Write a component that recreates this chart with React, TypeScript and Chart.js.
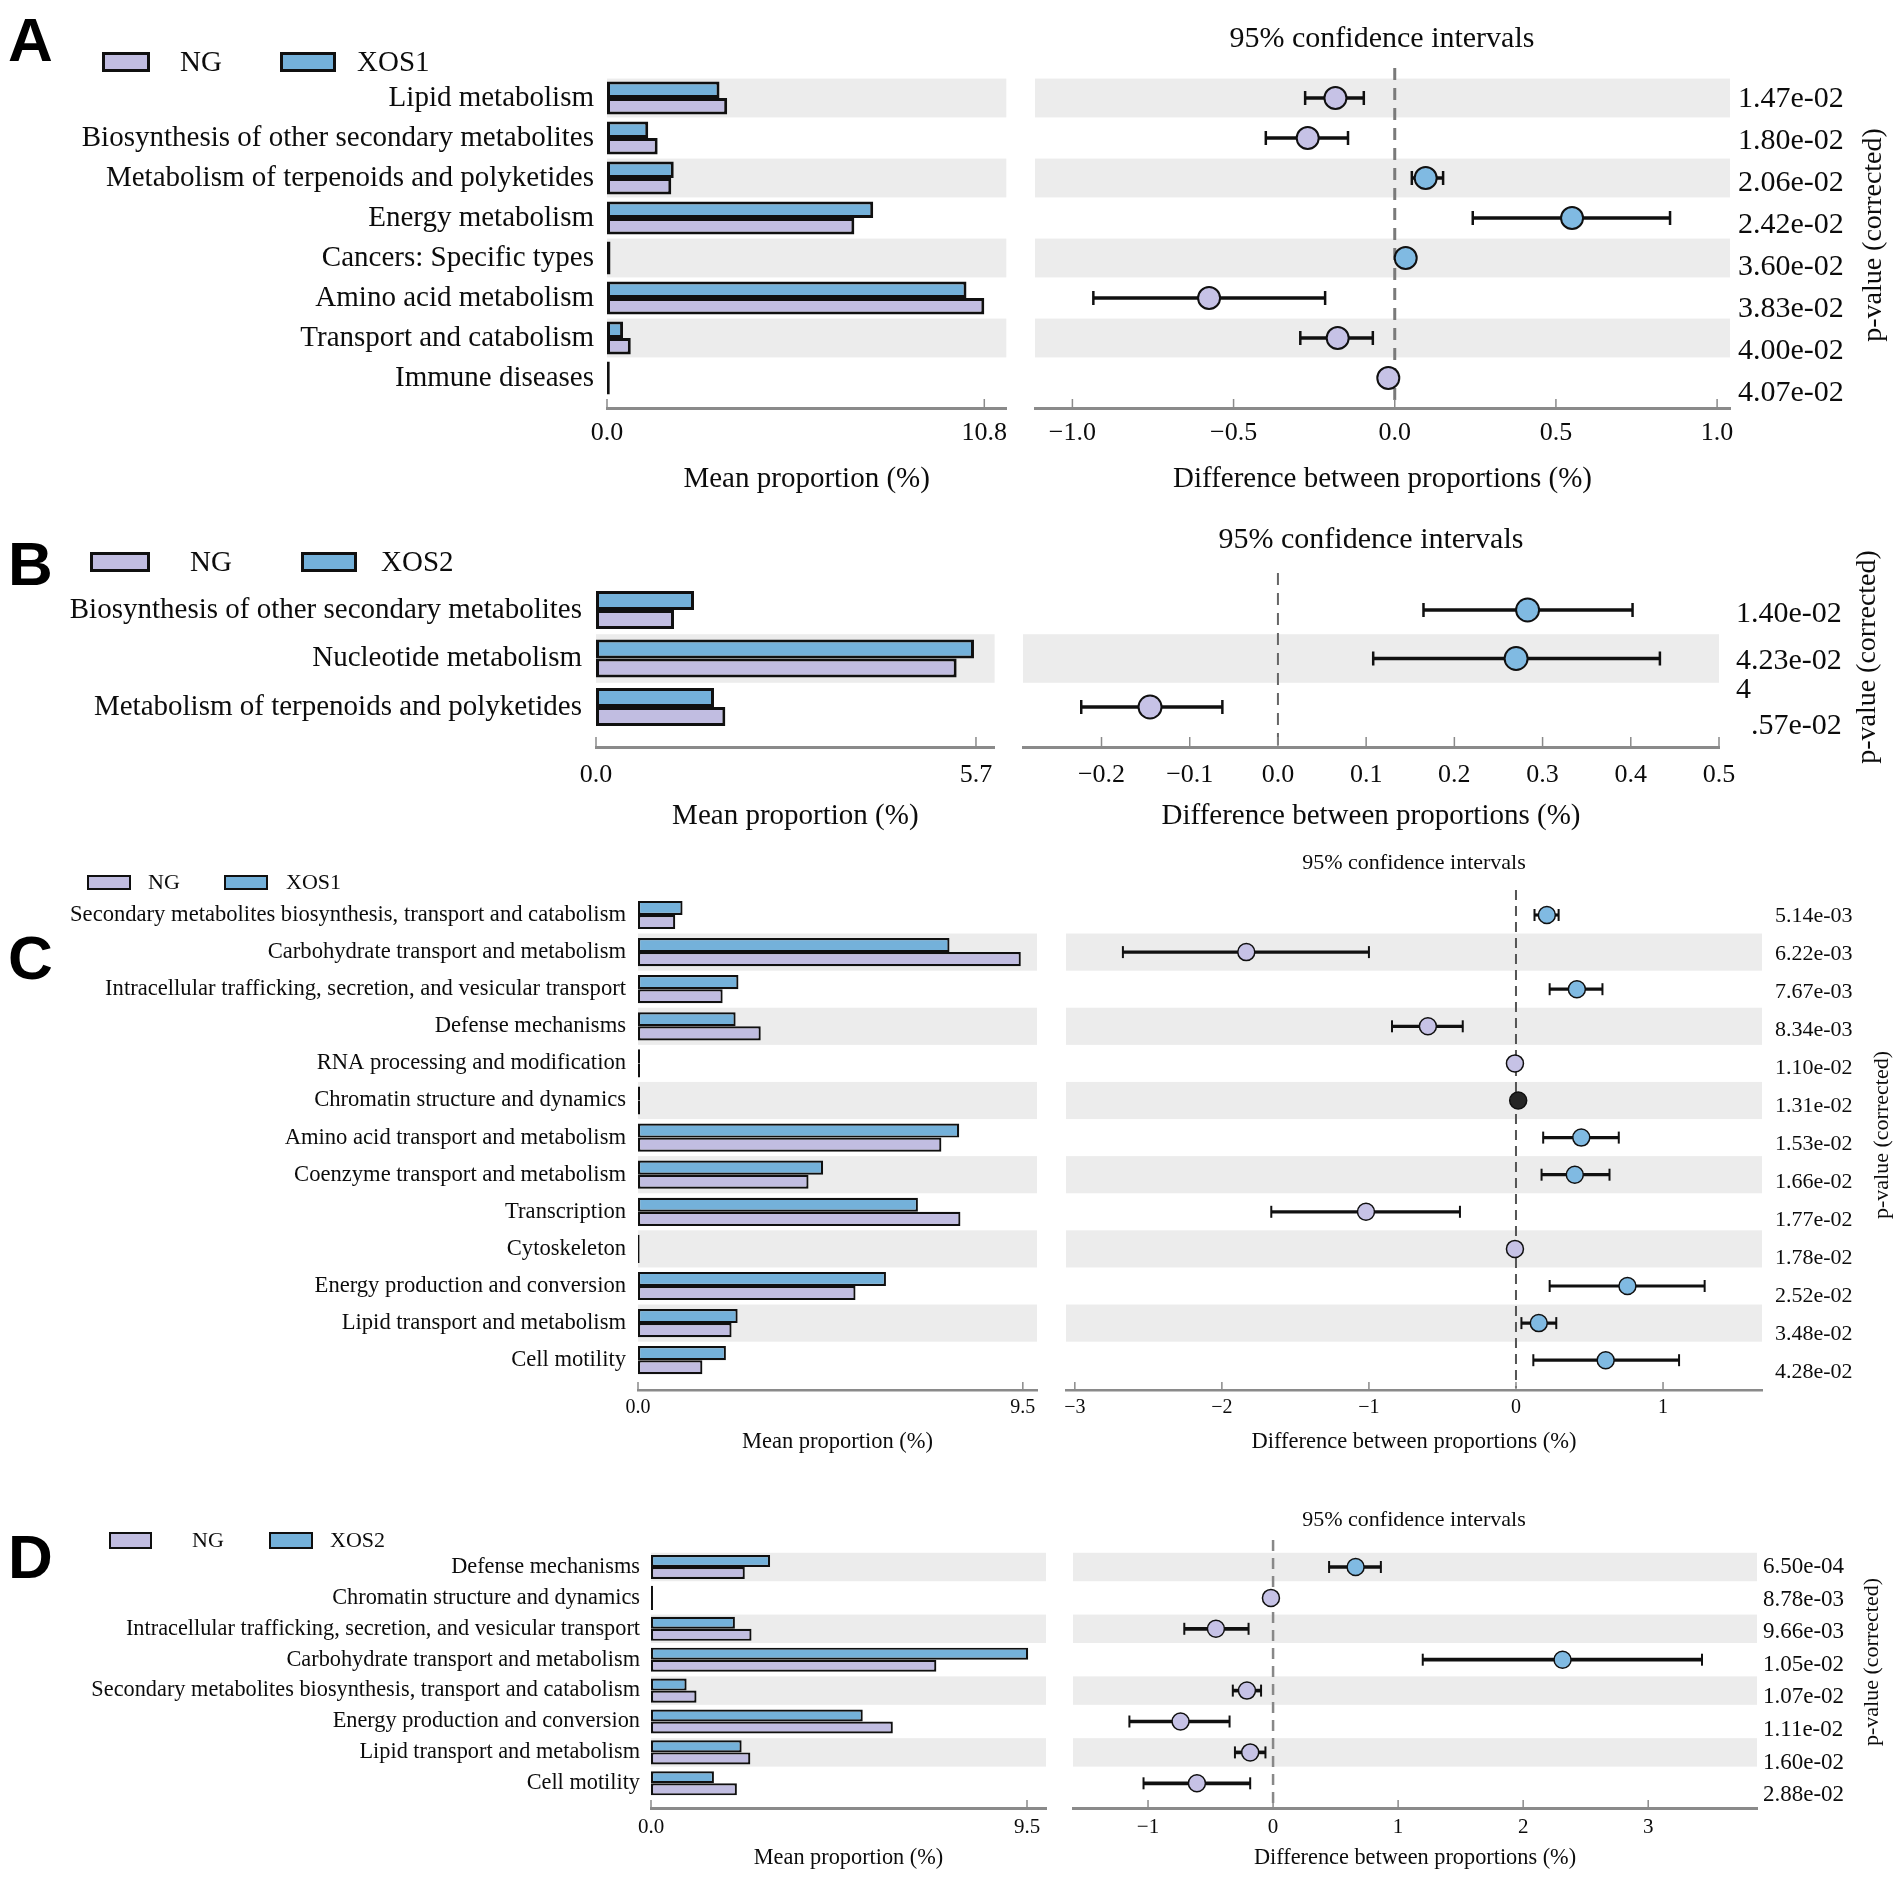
import React, { useEffect, useRef } from 'react';
import { Chart, registerables } from 'chart.js';

Chart.register(...registerables);

const PAGE_W = 1902;
const PAGE_H = 1879;
const SERIF = "'Liberation Serif', 'Times New Roman', Times, serif";
const SANS = "'Liberation Sans', Arial, Helvetica, sans-serif";
const TEXT = '#0c0c0c';
const EDGE = '#101010';
const NG_BAR = '#C1BDE1';
const XOS_BAR = '#74B1DA';
const NG_PT = '#C6C2E6';
const XOS_PT = '#80BAE2';
const NONE_PT = '#262626';
const BAND = '#ECECEC';
const AXIS = '#8A8A8A';

// ---------------- Panel A ----------------
const aCategories = [
  'Lipid metabolism',
  'Biosynthesis of other secondary metabolites',
  'Metabolism of terpenoids and polyketides',
  'Energy metabolism',
  'Cancers: Specific types',
  'Amino acid metabolism',
  'Transport and catabolism',
  'Immune diseases',
];
const aXOS = [3.22, 1.18, 1.91, 7.62, 0.1, 10.29, 0.46, 0.08];
const aNG = [3.44, 1.45, 1.84, 7.08, 0.1, 10.8, 0.68, 0.08];
const aDiff = [-0.184, -0.27, 0.096, 0.55, 0.034, -0.576, -0.177, -0.02];
const aLow = [-0.278, -0.4, 0.053, 0.242, 0.026, -0.935, -0.293, -0.028];
const aHigh = [-0.096, -0.145, 0.15, 0.854, 0.042, -0.216, -0.068, -0.012];
const aEnriched = ['NG', 'NG', 'XOS', 'XOS', 'XOS', 'NG', 'NG', 'NG'];
const aPValues = ['1.47e-02', '1.80e-02', '2.06e-02', '2.42e-02', '3.60e-02', '3.83e-02', '4.00e-02', '4.07e-02'];
const aBarTicks = [0, 10.8];
const aBarTickLabels = ['0.0', '10.8'];
const aDiffTicks = [-1, -0.5, 0, 0.5, 1];
const aDiffTickLabels = ['\u22121.0', '\u22120.5', '0.0', '0.5', '1.0'];

// ---------------- Panel B ----------------
const bCategories = [
  'Biosynthesis of other secondary metabolites',
  'Nucleotide metabolism',
  'Metabolism of terpenoids and polyketides',
];
const bXOS = [1.47, 5.67, 1.77];
const bNG = [1.17, 5.41, 1.94];
const bDiff = [0.283, 0.27, -0.145];
const bLow = [0.165, 0.108, -0.223];
const bHigh = [0.402, 0.433, -0.063];
const bEnriched = ['XOS', 'XOS', 'NG'];
const bPValues: (string | string[])[] = ['1.40e-02', '4.23e-02', ['4', '\u2007.57e-02']];
const bBarTicks = [0, 5.7];
const bBarTickLabels = ['0.0', '5.7'];
const bDiffTicks = [-0.2, -0.1, 0, 0.1, 0.2, 0.3, 0.4, 0.5];
const bDiffTickLabels = ['\u22120.2', '\u22120.1', '0.0', '0.1', '0.2', '0.3', '0.4', '0.5'];

// ---------------- Panel C ----------------
const cCategories = [
  'Secondary metabolites biosynthesis, transport and catabolism',
  'Carbohydrate transport and metabolism',
  'Intracellular trafficking, secretion, and vesicular transport',
  'Defense mechanisms',
  'RNA processing and modification',
  'Chromatin structure and dynamics',
  'Amino acid transport and metabolism',
  'Coenzyme transport and metabolism',
  'Transcription',
  'Cytoskeleton',
  'Energy production and conversion',
  'Lipid transport and metabolism',
  'Cell motility',
];
const cXOS = [1.1, 7.69, 2.48, 2.41, 0.05, 0.05, 7.93, 4.57, 6.91, 0.04, 6.12, 2.46, 2.17];
const cNG = [0.92, 9.45, 2.09, 3.03, 0.05, 0.05, 7.49, 4.21, 7.96, 0.04, 5.37, 2.31, 1.59];
const cDiff = [0.21, -1.834, 0.414, -0.599, -0.007, 0.015, 0.444, 0.4, -1.02, -0.007, 0.758, 0.155, 0.61];
const cLow = [0.126, -2.673, 0.229, -0.843, -0.012, 0.01, 0.185, 0.174, -1.664, -0.012, 0.229, 0.037, 0.118];
const cHigh = [0.29, -1.0, 0.588, -0.362, -0.002, 0.02, 0.699, 0.636, -0.381, -0.002, 1.283, 0.274, 1.109];
const cEnriched = ['XOS', 'NG', 'XOS', 'NG', 'NG', 'NONE', 'XOS', 'XOS', 'NG', 'NG', 'XOS', 'XOS', 'XOS'];
const cPValues = [
  '5.14e-03', '6.22e-03', '7.67e-03', '8.34e-03', '1.10e-02', '1.31e-02', '1.53e-02',
  '1.66e-02', '1.77e-02', '1.78e-02', '2.52e-02', '3.48e-02', '4.28e-02',
];
const cBarTicks = [0, 9.5];
const cBarTickLabels = ['0.0', '9.5'];
const cDiffTicks = [-3, -2, -1, 0, 1];
const cDiffTickLabels = ['\u22123', '\u22122', '\u22121', '0', '1'];

// ---------------- Panel D ----------------
const dCategories = [
  'Defense mechanisms',
  'Chromatin structure and dynamics',
  'Intracellular trafficking, secretion, and vesicular transport',
  'Carbohydrate transport and metabolism',
  'Secondary metabolites biosynthesis, transport and catabolism',
  'Energy production and conversion',
  'Lipid transport and metabolism',
  'Cell motility',
];
const dXOS = [3.01, 0.05, 2.12, 9.53, 0.9, 5.35, 2.29, 1.59];
const dNG = [2.37, 0.05, 2.54, 7.21, 1.15, 6.11, 2.51, 2.17];
const dDiff = [0.66, -0.017, -0.457, 2.315, -0.209, -0.74, -0.183, -0.609];
const dLow = [0.448, -0.03, -0.71, 1.197, -0.322, -1.149, -0.305, -1.036];
const dHigh = [0.862, -0.005, -0.196, 3.43, -0.096, -0.348, -0.061, -0.183];
const dEnriched = ['XOS', 'NG', 'NG', 'XOS', 'NG', 'NG', 'NG', 'NG'];
const dPValues = ['6.50e-04', '8.78e-03', '9.66e-03', '1.05e-02', '1.07e-02', '1.11e-02', '1.60e-02', '2.88e-02'];
const dBarTicks = [0, 9.5];
const dBarTickLabels = ['0.0', '9.5'];
const dDiffTicks = [-1, 0, 1, 2, 3];
const dDiffTickLabels = ['\u22121', '0', '1', '2', '3'];

type PanelData = {
  categories: string[];
  ng: number[];
  xos: number[];
  diff: number[];
  low: number[];
  high: number[];
  enriched: string[];
  pValues: (string | string[])[];
  barTicks: number[];
  barTickLabels: string[];
  diffTicks: number[];
  diffTickLabels: string[];
  xosName: string;
};

const panelA: PanelData = {
  categories: aCategories, ng: aNG, xos: aXOS, diff: aDiff, low: aLow, high: aHigh, enriched: aEnriched,
  pValues: aPValues, barTicks: aBarTicks, barTickLabels: aBarTickLabels, diffTicks: aDiffTicks,
  diffTickLabels: aDiffTickLabels, xosName: 'XOS1',
};
const panelB: PanelData = {
  categories: bCategories, ng: bNG, xos: bXOS, diff: bDiff, low: bLow, high: bHigh, enriched: bEnriched,
  pValues: bPValues, barTicks: bBarTicks, barTickLabels: bBarTickLabels, diffTicks: bDiffTicks,
  diffTickLabels: bDiffTickLabels, xosName: 'XOS2',
};
const panelC: PanelData = {
  categories: cCategories, ng: cNG, xos: cXOS, diff: cDiff, low: cLow, high: cHigh, enriched: cEnriched,
  pValues: cPValues, barTicks: cBarTicks, barTickLabels: cBarTickLabels, diffTicks: cDiffTicks,
  diffTickLabels: cDiffTickLabels, xosName: 'XOS1',
};
const panelD: PanelData = {
  categories: dCategories, ng: dNG, xos: dXOS, diff: dDiff, low: dLow, high: dHigh, enriched: dEnriched,
  pValues: dPValues, barTicks: dBarTicks, barTickLabels: dBarTickLabels, diffTicks: dDiffTicks,
  diffTickLabels: dDiffTickLabels, xosName: 'XOS2',
};

// ---------------- Layouts (page pixel geometry) ----------------
const layoutA = {
  letter: 'A', letterTop: 17,
  legendY: 62, legendH: 20, legendFont: 29, legendBorder: 3,
  ngX: 102, ngW: 48, ngTextX: 180, xosX: 280, xosW: 56, xosTextX: 357,
  top: 68, axisY: 408, r0: 98, pitch: 40, pv0: 99, pvPitch: 42,
  barLeft: 607, barRight: 1007, barMax: 11.43, catPad: 13,
  diffLeft: 1035, diffRight: 1730, diffMin: -1.116, diffMax: 1.04,
  tickLabelY: 433, titleY: 480, ciX: 1382, ciY: 39, pvX: 1738, pTitleX: 1874, pTitleY: 235,
  catFont: 29, tickFont: 26, titleFont: 29, ciFont: 30, pvFont: 30, pTitleFont: 28,
  catPct: 0.82, barBorder: 3, pointR: 11, pointBorder: 2, errW: 3, capR: 7, capW: 2.5,
  bandHalf: 0.485, dash: [12, 8], dashW: 3, dashColor: '#7a7a7a', axisW: 3, tickLen: 9,
};
const layoutB = {
  letter: 'B', letterTop: 541,
  legendY: 562, legendH: 20, legendFont: 29, legendBorder: 3,
  ngX: 90, ngW: 60, ngTextX: 190, xosX: 301, xosW: 56, xosTextX: 381,
  top: 573, axisY: 747, r0: 610, pitch: 48.5, pv0: 614, pvPitch: 47,
  barLeft: 596, barRight: 997, barMax: 5.98, catPad: 14,
  diffLeft: 1023, diffRight: 1719, diffMin: -0.289, diffMax: 0.5,
  tickLabelY: 775, titleY: 817, ciX: 1371, ciY: 540, pvX: 1736, pTitleX: 1868, pTitleY: 657,
  catFont: 29, tickFont: 26, titleFont: 29, ciFont: 30, pvFont: 30, pTitleFont: 28,
  catPct: 0.78, barBorder: 3, pointR: 11.5, pointBorder: 2, errW: 3, capR: 7, capW: 2.5,
  bandHalf: 0.5, dash: [12, 8], dashW: 2, dashColor: '#666666', axisW: 3, tickLen: 10,
};
const layoutC = {
  letter: 'C', letterTop: 935,
  legendY: 882, legendH: 15, legendFont: 22, legendBorder: 2.5,
  ngX: 87, ngW: 44, ngTextX: 148, xosX: 224, xosW: 44, xosTextX: 286,
  top: 890, axisY: 1390, r0: 915, pitch: 37.1, pv0: 916, pvPitch: 38,
  barLeft: 638, barRight: 1037, barMax: 9.85, catPad: 12,
  diffLeft: 1066, diffRight: 1762, diffMin: -3.06, diffMax: 1.673,
  tickLabelY: 1408, titleY: 1442, ciX: 1414, ciY: 863, pvX: 1775, pTitleX: 1882, pTitleY: 1135,
  catFont: 22.6, tickFont: 20, titleFont: 22.5, ciFont: 22, pvFont: 22, pTitleFont: 22,
  catPct: 0.76, barBorder: 2.2, pointR: 8.5, pointBorder: 1.5, errW: 2.5, capR: 6, capW: 2,
  bandHalf: 0.5, dash: [10, 6], dashW: 2, dashColor: '#555555', axisW: 2.5, tickLen: 8,
};
const layoutD = {
  letter: 'D', letterTop: 1534,
  legendY: 1540, legendH: 17, legendFont: 22, legendBorder: 2.5,
  ngX: 109, ngW: 43, ngTextX: 192, xosX: 269, xosW: 44, xosTextX: 330,
  top: 1540, axisY: 1808, r0: 1567, pitch: 30.9, pv0: 1567, pvPitch: 32.6,
  barLeft: 651, barRight: 1046, barMax: 9.98, catPad: 11,
  diffLeft: 1073, diffRight: 1757, diffMin: -1.6, diffMax: 3.87,
  tickLabelY: 1827, titleY: 1859, ciX: 1414, ciY: 1520, pvX: 1763, pTitleX: 1872, pTitleY: 1662,
  catFont: 22.3, tickFont: 21, titleFont: 22.3, ciFont: 22, pvFont: 23, pTitleFont: 22,
  catPct: 0.78, barBorder: 2.2, pointR: 8.5, pointBorder: 1.5, errW: 3, capR: 6, capW: 2,
  bandHalf: 0.46, dash: [11, 7], dashW: 2.5, dashColor: '#888888', axisW: 3, tickLen: 8,
};

type Layout = typeof layoutA;

// row scale limits so that value 0 lands on `first` and each step is `step` pixels
function limits(top: number, bottom: number, first: number, step: number) {
  const min = -(first - top) / step;
  return { min, max: min + (bottom - top) / step };
}

function pointColor(g: string) {
  if (g === 'XOS') return XOS_PT;
  if (g === 'NG') return NG_PT;
  return NONE_PT;
}

function Panel({ d, L }: { d: PanelData; L: Layout }) {
  const barRef = useRef<HTMLCanvasElement | null>(null);
  const diffRef = useRef<HTMLCanvasElement | null>(null);
  const canvasTop = Math.floor(L.ciY - L.ciFont);
  const canvasH = Math.round(L.titleY + L.titleFont * 0.6 + 3 - canvasTop);
  const split = L.diffLeft - 18;
  const diffW = PAGE_W - split;

  useEffect(() => {
    const padTop = L.top - canvasTop;
    const xAxisH = canvasH - (L.axisY - canvasTop);
    const tickPad = L.tickLabelY - L.axisY - L.tickFont * 0.6;
    const rows = limits(L.top, L.axisY, L.r0, L.pitch);
    const pv = limits(L.top, L.axisY, L.pv0, L.pvPitch);
    const n = d.categories.length;
    const font = (size: number) => ({ family: SERIF, size, weight: 'normal' as const });

    const bands = {
      id: 'bands',
      beforeDatasetsDraw(chart: any) {
        const { ctx, chartArea } = chart;
        const y = chart.scales.y;
        ctx.save();
        ctx.fillStyle = BAND;
        for (let i = 0; i < n; i++) {
          if ((n - 1 - i) % 2 === 1) {
            const y1 = y.getPixelForValue(i - L.bandHalf);
            const y2 = y.getPixelForValue(i + L.bandHalf);
            ctx.fillRect(chartArea.left, y1, chartArea.right - chartArea.left, y2 - y1);
          }
        }
        ctx.restore();
      },
    };
    const upTicks = {
      id: 'upTicks',
      beforeDatasetsDraw(chart: any) {
        const { ctx, chartArea } = chart;
        const x = chart.scales.x;
        ctx.save();
        ctx.strokeStyle = AXIS;
        ctx.lineWidth = 1.5;
        x.ticks.forEach((t: any) => {
          const px = x.getPixelForValue(t.value);
          ctx.beginPath();
          ctx.moveTo(px, chartArea.bottom);
          ctx.lineTo(px, chartArea.bottom - L.tickLen);
          ctx.stroke();
        });
        ctx.restore();
      },
    };
    const zeroLine = {
      id: 'zeroLine',
      beforeDatasetsDraw(chart: any) {
        const { ctx, chartArea } = chart;
        const x0 = chart.scales.x.getPixelForValue(0);
        ctx.save();
        ctx.strokeStyle = L.dashColor;
        ctx.lineWidth = L.dashW;
        ctx.setLineDash(L.dash);
        ctx.beginPath();
        ctx.moveTo(x0, chartArea.top);
        ctx.lineTo(x0, chartArea.bottom - 2);
        ctx.stroke();
        ctx.restore();
      },
    };
    const texts = {
      id: 'texts',
      afterDraw(chart: any) {
        const { ctx } = chart;
        ctx.save();
        ctx.fillStyle = TEXT;
        ctx.textAlign = 'center';
        ctx.textBaseline = 'middle';
        ctx.font = `${L.ciFont}px ${SERIF}`;
        ctx.fillText('95% confidence intervals', L.ciX - split, L.ciY - canvasTop);
        ctx.translate(L.pTitleX - split, L.pTitleY - canvasTop);
        ctx.rotate(-Math.PI / 2);
        ctx.font = `${L.pTitleFont}px ${SERIF}`;
        ctx.fillText('p-value (corrected)', 0, 0);
        ctx.restore();
      },
    };

    const common = {
      responsive: false,
      animation: false as const,
      devicePixelRatio: 1,
      events: [] as any[],
      indexAxis: 'y' as const,
      plugins: { legend: { display: false }, tooltip: { enabled: false }, title: { display: false } },
    };

    const barChart = new Chart(barRef.current as HTMLCanvasElement, {
      type: 'bar',
      data: {
        datasets: [
          {
            label: d.xosName,
            data: d.xos.map((v, i) => ({ x: v, y: i })),
            backgroundColor: XOS_BAR,
            borderColor: EDGE,
            borderWidth: L.barBorder,
            borderSkipped: false,
            categoryPercentage: L.catPct,
            barPercentage: 1,
          },
          {
            label: 'NG',
            data: d.ng.map((v, i) => ({ x: v, y: i })),
            backgroundColor: NG_BAR,
            borderColor: EDGE,
            borderWidth: L.barBorder,
            borderSkipped: false,
            categoryPercentage: L.catPct,
            barPercentage: 1,
          },
        ] as any,
      },
      options: {
        ...common,
        layout: { padding: { left: 0, right: split - L.barRight, top: padTop, bottom: 0 }, autoPadding: false },
        scales: {
          x: {
            type: 'linear',
            position: 'bottom',
            min: 0,
            max: L.barMax,
            bounds: 'data',
            afterBuildTicks: (s: any) => { s.ticks = d.barTicks.map((v) => ({ value: v })); },
            afterFit: (s: any) => { s.height = xAxisH; },
            ticks: {
              callback: (_v: any, i: number) => d.barTickLabels[i],
              font: font(L.tickFont), color: TEXT, padding: tickPad, autoSkip: false, maxRotation: 0,
            },
            grid: { display: false, drawTicks: false },
            border: { display: true, color: AXIS, width: L.axisW },
            title: {
              display: true, text: 'Mean proportion (%)', font: font(L.titleFont), color: TEXT,
              padding: { top: 0, bottom: 3 },
            },
          },
          y: {
            type: 'linear',
            reverse: true,
            offset: false,
            min: rows.min,
            max: rows.max,
            bounds: 'data',
            afterBuildTicks: (s: any) => { s.ticks = d.categories.map((_c, i) => ({ value: i })); },
            afterFit: (s: any) => { s.width = L.barLeft; },
            ticks: {
              callback: (_v: any, i: number) => d.categories[i],
              font: font(L.catFont), color: TEXT, padding: L.catPad, autoSkip: false,
            },
            grid: { display: false, drawTicks: false },
            border: { display: false },
          },
        },
      } as any,
      plugins: [bands, upTicks],
    });

    const diffChart = new Chart(diffRef.current as HTMLCanvasElement, {
      type: 'bar',
      data: {
        datasets: [
          {
            type: 'scatter',
            label: 'difference',
            data: d.diff.map((v, i) => ({ x: v, y: i })),
            pointRadius: L.pointR,
            pointHoverRadius: L.pointR,
            pointBackgroundColor: d.enriched.map(pointColor),
            pointBorderColor: EDGE,
            pointBorderWidth: L.pointBorder,
            order: 0,
          },
          {
            type: 'scatter',
            label: 'lower',
            data: d.low.map((v, i) => ({ x: v, y: i })),
            pointStyle: 'line',
            pointRotation: 90,
            pointRadius: L.capR,
            pointBorderColor: EDGE,
            pointBorderWidth: L.capW,
            order: 1,
          },
          {
            type: 'scatter',
            label: 'upper',
            data: d.high.map((v, i) => ({ x: v, y: i })),
            pointStyle: 'line',
            pointRotation: 90,
            pointRadius: L.capR,
            pointBorderColor: EDGE,
            pointBorderWidth: L.capW,
            order: 1,
          },
          {
            type: 'bar',
            label: 'ci',
            data: d.low.map((l, i) => ({ x: [l, d.high[i]], y: i })),
            backgroundColor: EDGE,
            borderWidth: 0,
            barThickness: L.errW,
            order: 2,
          },
        ] as any,
      },
      options: {
        ...common,
        layout: { padding: { left: 18, right: 0, top: padTop, bottom: 0 }, autoPadding: false },
        scales: {
          x: {
            type: 'linear',
            position: 'bottom',
            min: L.diffMin,
            max: L.diffMax,
            bounds: 'data',
            afterBuildTicks: (s: any) => { s.ticks = d.diffTicks.map((v) => ({ value: v })); },
            afterFit: (s: any) => { s.height = xAxisH; },
            ticks: {
              callback: (_v: any, i: number) => d.diffTickLabels[i],
              font: font(L.tickFont), color: TEXT, padding: tickPad, autoSkip: false, maxRotation: 0,
            },
            grid: { display: false, drawTicks: false },
            border: { display: true, color: AXIS, width: L.axisW },
            title: {
              display: true, text: 'Difference between proportions (%)', font: font(L.titleFont), color: TEXT,
              padding: { top: 0, bottom: 3 },
            },
          },
          y: {
            type: 'linear',
            display: false,
            reverse: true,
            offset: false,
            min: rows.min,
            max: rows.max,
            bounds: 'data',
          },
          p: {
            type: 'linear',
            position: 'right',
            reverse: true,
            offset: false,
            min: pv.min,
            max: pv.max,
            bounds: 'data',
            afterBuildTicks: (s: any) => { s.ticks = d.pValues.map((_p, i) => ({ value: i })); },
            afterFit: (s: any) => { s.width = PAGE_W - L.diffRight; },
            ticks: {
              callback: (_v: any, i: number) => d.pValues[i],
              font: font(L.pvFont), color: TEXT, padding: L.pvX - L.diffRight, autoSkip: false,
              crossAlign: 'near',
            },
            grid: { display: false, drawTicks: false },
            border: { display: false },
          },
        },
      } as any,
      plugins: [bands, zeroLine, upTicks, texts],
    });

    return () => {
      barChart.destroy();
      diffChart.destroy();
    };
  }, [d, L]);

  const swatch = (x: number, w: number, color: string) => (
    <div
      style={{
        position: 'absolute', left: x, top: L.legendY - L.legendH / 2, width: w, height: L.legendH,
        boxSizing: 'border-box', border: `${L.legendBorder}px solid ${EDGE}`, background: color,
      }}
    />
  );
  const label = (x: number, s: string) => (
    <div
      style={{
        position: 'absolute', left: x, top: L.legendY - L.legendFont * 0.56, fontFamily: SERIF,
        fontSize: L.legendFont, lineHeight: `${L.legendFont * 1.1}px`, color: TEXT, whiteSpace: 'nowrap',
      }}
    >
      {s}
    </div>
  );

  return (
    <>
      <canvas
        ref={barRef}
        width={split}
        height={canvasH}
        style={{ position: 'absolute', left: 0, top: canvasTop, width: split, height: canvasH }}
      />
      <canvas
        ref={diffRef}
        width={diffW}
        height={canvasH}
        style={{ position: 'absolute', left: split, top: canvasTop, width: diffW, height: canvasH }}
      />
      <div
        style={{
          position: 'absolute', left: 8, top: L.letterTop - 8, fontFamily: SANS, fontWeight: 700,
          fontSize: 62, lineHeight: '62px', color: '#000',
        }}
      >
        {L.letter}
      </div>
      {swatch(L.ngX, L.ngW, NG_BAR)}
      {label(L.ngTextX, 'NG')}
      {swatch(L.xosX, L.xosW, XOS_BAR)}
      {label(L.xosTextX, d.xosName)}
    </>
  );
}

export default function App() {
  useEffect(() => {
    document.body.style.margin = '0';
  }, []);
  return (
    <div
      style={{
        position: 'absolute', left: 0, top: 0, width: PAGE_W, height: PAGE_H, background: '#ffffff',
        overflow: 'hidden',
      }}
    >
      <Panel d={panelA} L={layoutA} />
      <Panel d={panelB} L={layoutB} />
      <Panel d={panelC} L={layoutC} />
      <Panel d={panelD} L={layoutD} />
    </div>
  );
}
